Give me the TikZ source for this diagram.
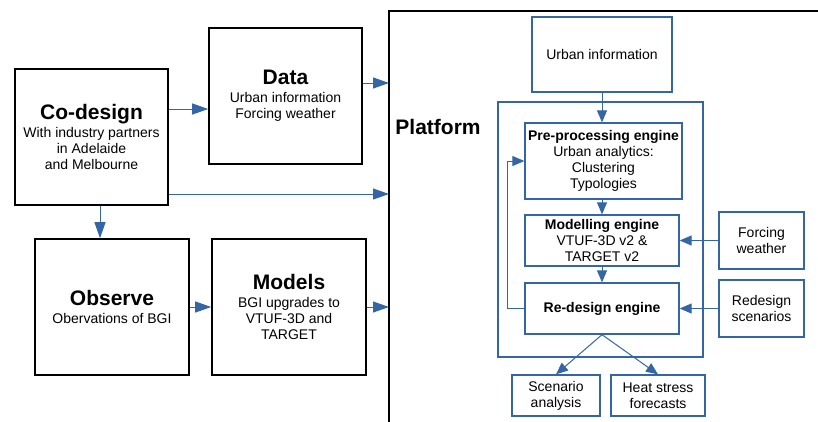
\documentclass[tikz,border=0pt]{standalone}
\usepackage{fontspec}
\setmainfont{Liberation Sans}
\usetikzlibrary{arrows.meta}
\definecolor{lineblue}{RGB}{52,101,164}
\newcommand{\ttl}[1]{{\fontsize{21}{24}\selectfont\bfseries #1}}
\tikzset{
  blackbox/.style={draw=black, line width=1.6pt, align=center, inner sep=0pt,
    font=\fontsize{14}{16}\selectfont},
  bluebox/.style={draw=lineblue, line width=1.3pt, align=center, inner sep=0pt,
    font=\fontsize{14}{16}\selectfont},
  bigflow/.style={draw=lineblue, line width=1pt, -{Triangle[length=16pt,width=11pt]}},
  flow/.style={draw=lineblue, line width=1pt, -{Triangle[length=12pt,width=10pt]}},
}

\begin{document}
\begin{tikzpicture}[x=1pt,y=-1pt]
  \useasboundingbox (0,0) rectangle (818,421);

  % left hand side
  \node[blackbox, minimum width=153pt, minimum height=136pt] (codesign) at (91.5,137)
    {\ttl{Co-design}\\[2pt]With industry partners\\in Adelaide\\ and Melbourne};
  \node[blackbox, minimum width=153pt, minimum height=136pt] (data) at (285.5,96)
    {\ttl{Data}\\[2pt]Urban information\\Forcing weather};
  \node[blackbox, minimum width=154pt, minimum height=136pt] (observe) at (112,307)
    {\ttl{Observe}\\[2pt]Obervations of BGI};
  \node[blackbox, minimum width=154pt, minimum height=136pt] (models) at (289,307)
    {\ttl{Models}\\[2pt]BGI upgrades to\\VTUF-3D and\\TARGET};

  % platform frame
  \coordinate (plat) at (389,11);
  \draw[line width=1.6pt] (389,430) |- (830,11);
  \node (platform) at (438,127) {\ttl{Platform}};

  % platform contents
  \node[bluebox, minimum width=140pt, minimum height=75pt] (urban) at (602,54.5)
    {Urban information};
  \node[bluebox, minimum width=205pt, minimum height=255pt] (engines) at (600.5,229.5) {};
  \node[bluebox, minimum width=157pt, minimum height=76pt] (preproc) at (603.5,161)
    {\textbf{Pre-processing engine}\\Urban analytics:\\Clustering\\Typologies};
  \node[bluebox, minimum width=154pt, minimum height=51pt] (modelling) at (602,240.5)
    {\textbf{Modelling engine}\\VTUF-3D v2 \&\\TARGET v2};
  \node[bluebox, minimum width=154pt, minimum height=51pt] (redesign) at (602,308.5)
    {\textbf{Re-design engine}};
  \node[bluebox, minimum width=85pt, minimum height=57pt] (forcing) at (761.5,240.5)
    {Forcing\\weather};
  \node[bluebox, minimum width=85pt, minimum height=57pt] (scenarios) at (761.5,308.5)
    {Redesign\\scenarios};
  \node[bluebox, minimum width=88pt, minimum height=41pt] (analysis) at (556,395.5)
    {Scenario\\analysis};
  \node[bluebox, minimum width=94pt, minimum height=41pt] (heat) at (658,395.5)
    {Heat stress\\forecasts};

  % connectors
  \draw[bigflow] ([yshift=28pt]codesign.east) -- ([yshift=28pt]codesign.east -| data.west);
  \draw[bigflow] ([yshift=13pt]data.east) -- ([yshift=13pt]data.east -| plat);
  \draw[bigflow] ([yshift=-57pt]codesign.east) -- ([yshift=-57pt]codesign.east -| plat);
  \draw[bigflow] ([xshift=8.5pt]codesign.south) -- ([xshift=8.5pt]codesign.south |- observe.north);
  \draw[bigflow] (observe.east) -- (models.west);
  \draw[bigflow] (models.east) -- (models.east -| plat);

  \draw[flow] (urban.south) -- (urban.south |- preproc.north);
  \draw[flow] (modelling.north |- preproc.south) -- (modelling.north);
  \draw[flow] (modelling.south) -- (redesign.north);
  \draw[flow] (forcing.west) -- (modelling.east);
  \draw[flow] (scenarios.west) -- (redesign.east);
  \draw[flow] (redesign.west) -- ++(-17,0) |- (preproc.west);
  \draw[flow] (redesign.south) -- (analysis.north);
  \draw[flow] (redesign.south) -- (heat.north);
\end{tikzpicture}
\end{document}
